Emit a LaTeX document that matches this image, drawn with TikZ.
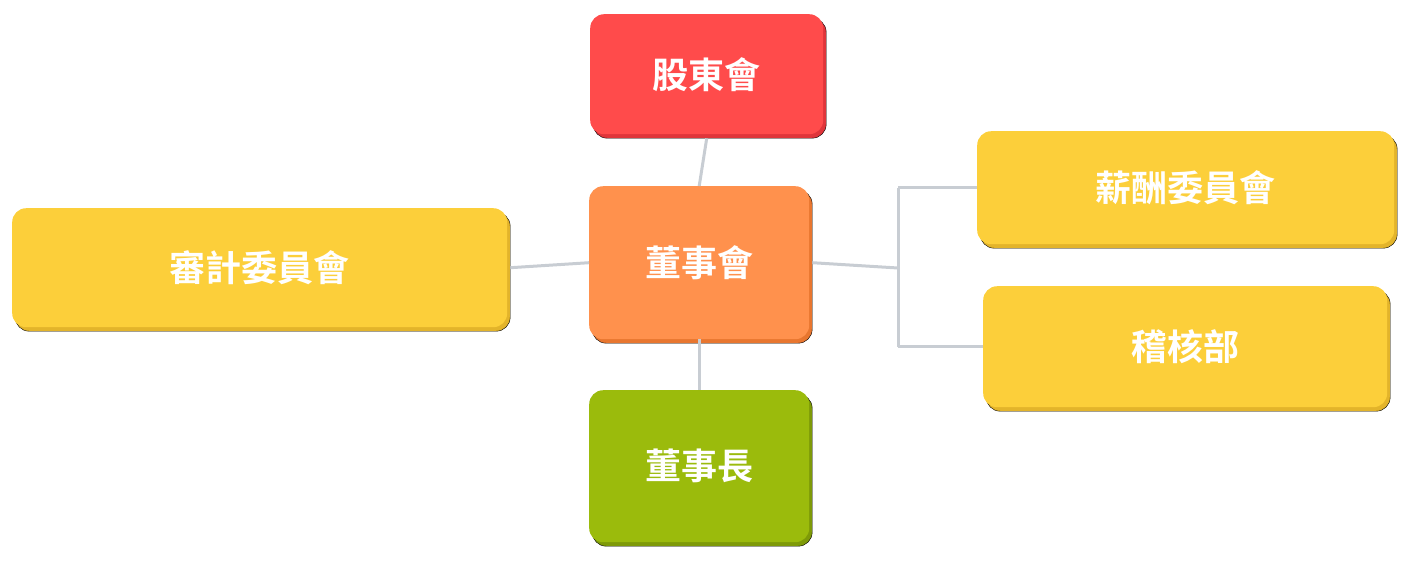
\documentclass[tikz,border=0pt]{standalone}
\usepackage{fontspec}
\newfontfamily\cjk[BoldFont={Noto Sans CJK TC Bold}]{Noto Sans CJK TC}
\usetikzlibrary{shadows}
\definecolor{cred}{HTML}{FF4B4B}\definecolor{dred}{HTML}{E0353A}
\definecolor{cora}{HTML}{FF914D}\definecolor{dora}{HTML}{E8762F}
\definecolor{cgrn}{HTML}{9BBB0C}\definecolor{dgrn}{HTML}{7E9A08}
\definecolor{cyel}{HTML}{FCCF3A}\definecolor{dyel}{HTML}{E3B42A}
\definecolor{line}{HTML}{C8CDD3}
\tikzset{
 box/.style={rounded corners=14pt, inner sep=0pt, text=white, font=\cjk\bfseries\fontsize{36}{40}\selectfont, anchor=north west},
 sh/.style={copy shadow={shadow xshift=3pt, shadow yshift=-4pt, fill=#1}},
 conn/.style={draw=line, line width=3pt}
}
\begin{document}
\begin{tikzpicture}[x=1pt,y=-1pt]
\useasboundingbox (0,0) rectangle (1405,560);
\node[box, fill=cred, sh=dred, minimum width=233pt, minimum height=120pt] (a) at (590,14) {股東會};
\node[box, fill=cora, sh=dora, minimum width=220pt, minimum height=153pt] (b) at (589,186) {董事會};
\node[box, fill=cgrn, sh=dgrn, minimum width=220pt, minimum height=152pt] (c) at (589,390) {董事長};
\node[box, fill=cyel, sh=dyel, minimum width=495pt, minimum height=119pt] (d) at (12,208) {審計委員會};
\node[box, fill=cyel, sh=dyel, minimum width=417pt, minimum height=113pt] (e) at (977,131) {薪酬委員會};
\node[box, fill=cyel, sh=dyel, minimum width=404pt, minimum height=121pt] (f) at (983,286) {稽核部};
\coordinate (j) at (898,268);
\begin{scope}[on background layer/.style={}]
\end{scope}
\path[conn] (a.south) ++(0,4) -- (b.north);
\path[conn] (b.south) -- (c.north);
\path[conn] (d.east) ++(3,0) -- (b.west);
\path[conn] (b.east) ++(3,0) -- (j);
\path[conn] (j |- e.west) -- (j |- f.west);
\path[conn] (j |- e.west) -- (e.west);
\path[conn] (j |- f.west) -- (f.west);
\end{tikzpicture}
\end{document}
